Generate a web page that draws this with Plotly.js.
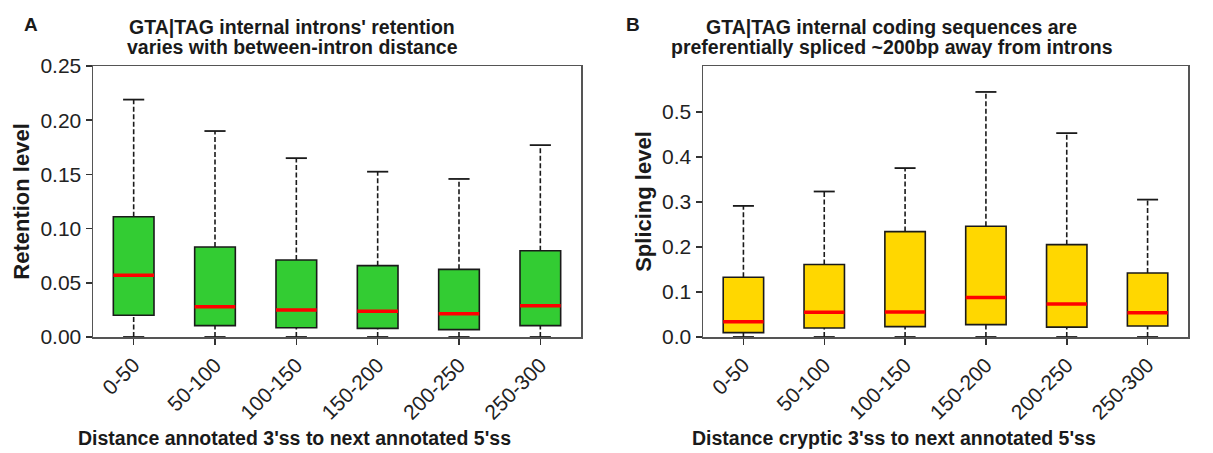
<!DOCTYPE html>
<html>
<head>
<meta charset="utf-8">
<script src="https://cdn.plot.ly/plotly-3.0.1.min.js"></script>
<style>html,body{margin:0;padding:0;background:#fff;}#chart{width:1213px;height:453px;}</style>
</head>
<body>
<div id="chart"></div>
<script>
// Categories (distance bins)
const categories = ['0-50', '50-100', '100-150', '150-200', '200-250', '250-300'];

// Panel A: retention level box statistics
const retLower  = [0, 0, 0, 0, 0, 0];
const retQ1     = [0.020, 0.0105, 0.0086, 0.008, 0.0068, 0.0105];
const retMedian = [0.057, 0.028, 0.025, 0.0237, 0.0215, 0.0289];
const retQ3     = [0.111, 0.083, 0.071, 0.0658, 0.0624, 0.0796];
const retUpper  = [0.219, 0.190, 0.165, 0.1525, 0.1458, 0.177];

// Panel B: splicing level box statistics
const splLower  = [0, 0, 0, 0, 0, 0];
const splQ1     = [0.0097, 0.020, 0.023, 0.0275, 0.022, 0.0245];
const splMedian = [0.034, 0.055, 0.0556, 0.0875, 0.0733, 0.054];
const splQ3     = [0.1327, 0.161, 0.234, 0.246, 0.205, 0.142];
const splUpper  = [0.291, 0.323, 0.375, 0.544, 0.4526, 0.305];

const FONT = 'Liberation Sans, Arial, sans-serif';
const pos = categories.map((c, i) => i);
const BOXW = 0.5, CAPW = 0.13;

function vsegs(y0, y1) {
  const xs = [], ys = [];
  pos.forEach((p, i) => { xs.push(p, p, null); ys.push(y0[i], y1[i], null); });
  return {xs, ys};
}
function hsegs(yv, half) {
  const xs = [], ys = [];
  pos.forEach((p, i) => { xs.push(p - half, p + half, null); ys.push(yv[i], yv[i], null); });
  return {xs, ys};
}

function panelTraces(lower, q1, med, q3, upper, fill, xa, ya) {
  const up = vsegs(q3, upper), lo = vsegs(lower, q1);
  const capU = hsegs(upper, CAPW), capL = hsegs(lower, CAPW);
  const medS = hsegs(med, BOXW / 2);
  const dashLine = {color: '#1a1a1a', width: 1.6, dash: '5px,2.5px'};
  return [
    {type: 'scatter', mode: 'lines', x: up.xs.concat(lo.xs), y: up.ys.concat(lo.ys),
     line: dashLine, xaxis: xa, yaxis: ya, hoverinfo: 'skip', showlegend: false},
    {type: 'scatter', mode: 'lines', x: capU.xs.concat(capL.xs), y: capU.ys.concat(capL.ys),
     line: {color: '#1a1a1a', width: 1.8}, xaxis: xa, yaxis: ya, hoverinfo: 'skip', showlegend: false},
    {type: 'box', x: pos, q1: q1, median: med, q3: q3, lowerfence: q1, upperfence: q3,
     width: BOXW, whiskerwidth: 0, fillcolor: fill, line: {color: '#1a1a1a', width: 1.6},
     boxpoints: false, xaxis: xa, yaxis: ya, showlegend: false},
    {type: 'scatter', mode: 'lines', x: medS.xs, y: medS.ys,
     line: {color: '#ff0000', width: 3.5}, xaxis: xa, yaxis: ya, hoverinfo: 'skip', showlegend: false}
  ];
}

const data = [].concat(
  panelTraces(retLower, retQ1, retMedian, retQ3, retUpper, '#33cc33', 'x', 'y'),
  panelTraces(splLower, splQ1, splMedian, splQ3, splUpper, '#ffd700', 'x2', 'y2')
);

const W = 1213, H = 453;
const px = v => v / W, py = v => 1 - v / H;

const axisCommon = {
  showline: true, mirror: true, linecolor: '#555', linewidth: 1.5,
  ticks: 'outside', ticklen: 6, tickwidth: 1.5, tickcolor: '#333',
  showgrid: false, zeroline: false,
  tickfont: {family: FONT, size: 21, color: '#222'}
};
const xCommon = Object.assign({}, axisCommon, {
  range: [-0.5, 5.5], tickvals: pos, ticktext: categories, tickangle: -45
});

const layout = {
  width: W, height: H,
  margin: {l: 0, r: 0, t: 0, b: 0},
  paper_bgcolor: '#fff', plot_bgcolor: '#fff',
  showlegend: false,
  xaxis: Object.assign({}, xCommon, {domain: [px(93), px(581)], anchor: 'y'}),
  xaxis2: Object.assign({}, xCommon, {domain: [px(703), px(1188)], anchor: 'y2'}),
  yaxis: Object.assign({}, axisCommon, {
    domain: [py(337), py(66)], range: [0, 0.25], tickvals: [0, 0.05, 0.10, 0.15, 0.20, 0.25],
    tickformat: '.2f', anchor: 'x',
    title: {text: 'Retention level', font: {family: FONT, size: 22, color: '#1a1a1a', weight: 'bold'}, standoff: 4}
  }),
  yaxis2: Object.assign({}, axisCommon, {
    domain: [py(337), py(66)], range: [0, 0.6016], tickvals: [0, 0.1, 0.2, 0.3, 0.4, 0.5],
    tickformat: '.1f', anchor: 'x2',
    title: {text: 'Splicing level', font: {family: FONT, size: 22, color: '#1a1a1a', weight: 'bold'}, standoff: 4}
  }),
  annotations: [
    {text: '<b>A</b>', x: px(31), y: py(24), xref: 'paper', yref: 'paper', showarrow: false,
     xanchor: 'center', yanchor: 'middle', font: {family: FONT, size: 19, color: '#1a1a1a'}},
    {text: '<b>B</b>', x: px(633), y: py(24), xref: 'paper', yref: 'paper', showarrow: false,
     xanchor: 'center', yanchor: 'middle', font: {family: FONT, size: 19, color: '#1a1a1a'}},
    {text: "<b>GTA|TAG internal introns' retention</b>", x: px(292), y: py(27), xref: 'paper', yref: 'paper',
     showarrow: false, xanchor: 'center', yanchor: 'middle', font: {family: FONT, size: 19.5, color: '#1a1a1a'}},
    {text: '<b>varies with between-intron distance</b>', x: px(292), y: py(47), xref: 'paper', yref: 'paper',
     showarrow: false, xanchor: 'center', yanchor: 'middle', font: {family: FONT, size: 19.5, color: '#1a1a1a'}},
    {text: '<b>GTA|TAG internal coding sequences are</b>', x: px(892), y: py(27), xref: 'paper', yref: 'paper',
     showarrow: false, xanchor: 'center', yanchor: 'middle', font: {family: FONT, size: 19.5, color: '#1a1a1a'}},
    {text: '<b>preferentially spliced ~200bp away from introns</b>', x: px(892), y: py(47), xref: 'paper', yref: 'paper',
     showarrow: false, xanchor: 'center', yanchor: 'middle', font: {family: FONT, size: 19.5, color: '#1a1a1a'}},
    {text: "<b>Distance annotated 3'ss to next annotated 5'ss</b>", x: px(294), y: py(438), xref: 'paper', yref: 'paper',
     showarrow: false, xanchor: 'center', yanchor: 'middle', font: {family: FONT, size: 19.5, color: '#1a1a1a'}},
    {text: "<b>Distance cryptic 3'ss to next annotated 5'ss</b>", x: px(894), y: py(438), xref: 'paper', yref: 'paper',
     showarrow: false, xanchor: 'center', yanchor: 'middle', font: {family: FONT, size: 19.5, color: '#1a1a1a'}}
  ]
};

Plotly.newPlot('chart', data, layout, {displayModeBar: false, staticPlot: true});
</script>
</body>
</html>
